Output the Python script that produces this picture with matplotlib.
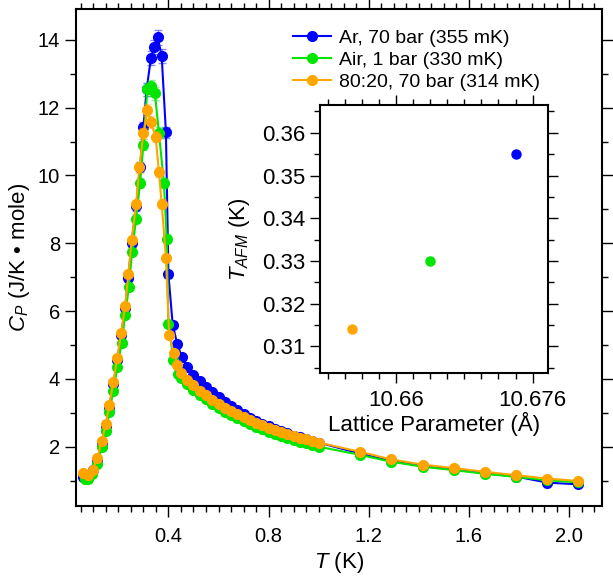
import matplotlib
matplotlib.use("Agg")
import matplotlib.pyplot as plt
from matplotlib.colors import to_rgba
from matplotlib.ticker import MultipleLocator, FixedLocator, FormatStrFormatter

plt.rcParams["font.family"] = ["Liberation Sans", "DejaVu Sans"]
plt.rcParams["mathtext.fontset"] = "custom"
plt.rcParams["mathtext.rm"] = "Liberation Sans"
plt.rcParams["mathtext.it"] = "Liberation Sans:italic"

# heat capacity data (T in K, C_P in J/K mole)
T_ar = [0.060, 0.080, 0.100, 0.116, 0.134, 0.150, 0.164, 0.180, 0.196, 0.211, 0.227, 0.240,
        0.253, 0.271, 0.287, 0.300, 0.313, 0.330, 0.344, 0.357, 0.373, 0.390, 0.400, 0.417,
        0.435, 0.453, 0.475, 0.500, 0.525, 0.550, 0.575, 0.600, 0.625, 0.650, 0.675, 0.700,
        0.725, 0.750, 0.775, 0.800, 0.825, 0.850, 0.875, 0.900, 0.925, 0.950, 0.975, 1.000,
        1.165, 1.287, 1.415, 1.540, 1.664, 1.788, 1.913, 2.036]
C_ar = [1.12, 1.10, 1.30, 1.62, 2.10, 2.62, 3.18, 3.85, 4.55, 5.30, 6.10, 6.98,
        8.00, 9.10, 10.25, 11.42, 12.54, 13.46, 13.78, 14.07, 13.53, 11.27, 7.08, 5.60,
        5.03, 4.66, 4.35, 4.12, 3.93, 3.76, 3.60, 3.46, 3.32, 3.19, 3.07, 2.96,
        2.86, 2.77, 2.68, 2.60, 2.53, 2.46, 2.39, 2.33, 2.28, 2.22, 2.17, 2.12,
        1.80, 1.58, 1.43, 1.33, 1.22, 1.12, 0.94, 0.89]

T_air = [0.065, 0.080, 0.094, 0.116, 0.134, 0.150, 0.164, 0.180, 0.196, 0.213, 0.227, 0.242,
         0.255, 0.271, 0.287, 0.300, 0.316, 0.329, 0.346, 0.362, 0.382, 0.393, 0.400, 0.420,
         0.438, 0.450, 0.475, 0.500, 0.525, 0.550, 0.575, 0.600, 0.625, 0.650, 0.675, 0.700,
         0.725, 0.750, 0.775, 0.800, 0.825, 0.850, 0.875, 0.900, 0.925, 0.950, 0.975, 1.000,
         1.165, 1.287, 1.415, 1.540, 1.664, 1.788, 1.913, 2.036]
C_air = [1.05, 1.05, 1.19, 1.50, 1.98, 2.45, 3.01, 3.65, 4.34, 5.05, 5.87, 6.71,
         7.74, 8.73, 9.78, 10.90, 12.54, 12.64, 12.42, 11.26, 9.78, 8.14, 5.63, 4.55,
         4.15, 4.02, 3.85, 3.68, 3.53, 3.40, 3.27, 3.15, 3.03, 2.93, 2.84, 2.75,
         2.66, 2.58, 2.51, 2.44, 2.38, 2.31, 2.25, 2.20, 2.15, 2.10, 2.05, 2.00,
         1.76, 1.56, 1.41, 1.31, 1.20, 1.11, 1.01, 0.95]

T_mix = [0.058, 0.080, 0.098, 0.116, 0.134, 0.150, 0.164, 0.180, 0.196, 0.211, 0.227, 0.240,
         0.253, 0.271, 0.284, 0.300, 0.316, 0.330, 0.349, 0.362, 0.373, 0.390, 0.403, 0.422,
         0.435, 0.450, 0.475, 0.500, 0.525, 0.550, 0.575, 0.600, 0.625, 0.650, 0.675, 0.700,
         0.725, 0.750, 0.775, 0.800, 0.825, 0.850, 0.875, 0.900, 0.925, 0.950, 0.975, 1.000,
         1.165, 1.287, 1.415, 1.540, 1.664, 1.788, 1.913, 2.036]
C_mix = [1.22, 1.18, 1.32, 1.68, 2.16, 2.67, 3.24, 3.91, 4.61, 5.36, 6.14, 7.08,
         8.09, 9.15, 10.24, 11.24, 11.93, 11.58, 11.14, 10.11, 9.17, 7.58, 5.28, 4.76,
         4.42, 4.16, 3.98, 3.81, 3.65, 3.52, 3.39, 3.27, 3.15, 3.05, 2.96, 2.87,
         2.78, 2.70, 2.63, 2.56, 2.50, 2.43, 2.37, 2.32, 2.27, 2.22, 2.17, 2.12,
         1.85, 1.63, 1.47, 1.37, 1.26, 1.16, 1.06, 0.99]

REL_ERR = 0.015  # error bars ~1.5 %

labels = ["Ar, 70 bar (355 mK)", "Air, 1 bar (330 mK)", "80:20, 70 bar (314 mK)"]
colors = ["#0000ff", "#00e600", "#ffa500"]

# inset: Neel temperature vs lattice parameter
lattice = [10.674, 10.664, 10.6548]
t_afm = [0.355, 0.330, 0.314]

fig = plt.figure(figsize=(6.13, 5.83), dpi=100)
ax = fig.add_axes([0.124, 0.132, 0.858, 0.852])

handles = []
for T, C, c, lab in zip([T_ar, T_air, T_mix], [C_ar, C_air, C_mix], colors, labels):
    err = [REL_ERR * v for v in C]
    ax.errorbar(T, C, yerr=err, fmt="none", ecolor=to_rgba(c, 0.45),
                elinewidth=1.0, capsize=3, capthick=1.0)
    h, = ax.plot(T, C, "-o", color=c, ms=7, lw=1.5, label=lab)
    handles.append(h)

ax.set_xlim(0.031, 2.131)
ax.set_ylim(0.25, 14.9)
ax.xaxis.set_major_locator(FixedLocator([0.4, 0.8, 1.2, 1.6, 2.0]))
ax.xaxis.set_minor_locator(MultipleLocator(0.05))
ax.set_yticks([2, 4, 6, 8, 10, 12, 14])
ax.yaxis.set_minor_locator(MultipleLocator(1))
ax.tick_params(which="both", direction="out", top=True, right=True, width=1.0,
               labelsize=14.5)
ax.tick_params(which="major", length=8)
ax.tick_params(which="minor", length=4)
ax.tick_params(axis="x", which="major", pad=7)
for s in ax.spines.values():
    s.set_linewidth(1.5)
ax.set_xlabel("$T$ (K)", fontsize=16, labelpad=3)
ax.set_ylabel("$C_P$ (J/K • mole)", fontsize=16, labelpad=4)

ax.legend(handles=handles, loc="upper left", bbox_to_anchor=(279 / 613, 1 - 16 / 583),
          bbox_transform=fig.transFigure, frameon=False, fontsize=14,
          handlelength=1.95, handletextpad=0.45, labelspacing=0.22, borderpad=0.2)

# inset
axi = fig.add_axes([320 / 613, 1 - 373 / 583, 228 / 613, 268 / 583])
for x, y, c in zip(lattice, t_afm, colors):
    axi.plot(x, y, "o", color=c, ms=6.5)
axi.set_xlim(10.6511, 10.6778)
axi.set_ylim(0.3038, 0.3665)
axi.xaxis.set_major_locator(FixedLocator([10.66, 10.676]))
axi.set_xticklabels(["10.66", "10.676"])
axi.xaxis.set_minor_locator(MultipleLocator(0.002))
axi.yaxis.set_major_locator(MultipleLocator(0.01))
axi.yaxis.set_minor_locator(MultipleLocator(0.005))
axi.yaxis.set_major_formatter(FormatStrFormatter("%.2f"))
axi.tick_params(which="both", direction="out", top=True, right=True, width=1.0,
                labelsize=16)
axi.tick_params(which="major", length=7)
axi.tick_params(which="minor", length=4)
axi.tick_params(axis="x", which="major", pad=5)
for s in axi.spines.values():
    s.set_linewidth(1.5)
axi.set_xlabel("Lattice Parameter (Å)", fontsize=16, labelpad=1)
axi.set_ylabel("$T_{AFM}$ (K)", fontsize=16, labelpad=7)

fig.savefig("out.png", dpi=100)
